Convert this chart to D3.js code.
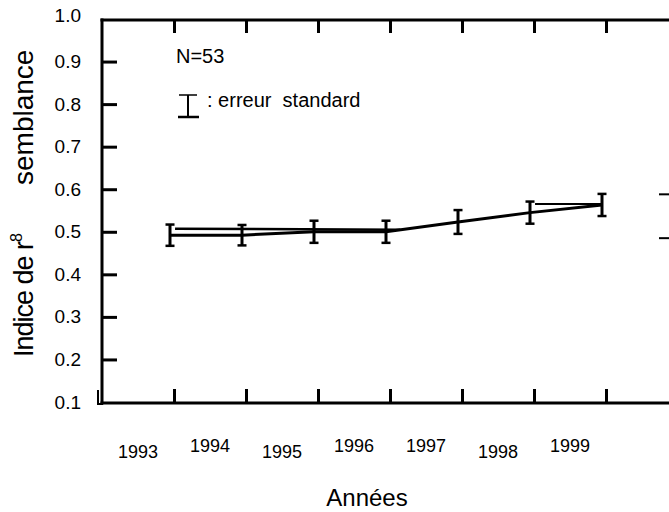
<!DOCTYPE html>
<html>
<head>
<meta charset="utf-8">
<script src="https://cdn.jsdelivr.net/npm/d3@7/dist/d3.min.js"></script>
<style>
  html, body { margin: 0; padding: 0; background: #fff; }
  svg { display: block; }
  text { font-family: "Liberation Sans", Arial, sans-serif; fill: #000; }
</style>
</head>
<body>
<svg id="chart" width="669" height="512"></svg>
<script>
// ---- data ----
const years = [1993, 1994, 1995, 1996, 1997, 1998, 1999];
const meanValues = [0.492, 0.492, 0.500, 0.500, 0.523, 0.545, 0.563];
const seValues = [0.025, 0.024, 0.026, 0.026, 0.028, 0.026, 0.026];
// second (upper) trace segments
const upperYearsA = [1993.07, 1996.2];
const upperValuesA = [0.507, 0.505];
const upperYearsB = [1998.07, 1999];
const upperValuesB = [0.565, 0.565];
const yTickValues = [0.1, 0.2, 0.3, 0.4, 0.5, 0.6, 0.7, 0.8, 0.9, 1.0];
const yTickLabels = ["0.1", "0.2", "0.3", "0.4", "0.5", "0.6", "0.7", "0.8", "0.9", "1.0"];
const xTickYears = [1993, 1994, 1995, 1996, 1997, 1998, 1999, 2000];
const xLabelYears = [1993, 1994, 1995, 1996, 1997, 1998, 1999];
const xLabelRaised = [false, true, false, true, true, false, true];
const stubValues = [0.588, 0.485];

const svg = d3.select("#chart");
const x = d3.scaleLinear().domain([1992, 2000]).range([102, 678]);
const y = d3.scaleLinear().domain([0.1, 1.0]).range([402, 19]);
const barShift = -4;

// frame
svg.append("line").attr("x1", 102).attr("x2", 102).attr("y1", 18.5).attr("y2", 404.5)
  .attr("stroke", "#000").attr("stroke-width", 3);
svg.append("line").attr("x1", 100.5).attr("x2", 669).attr("y1", 20).attr("y2", 20)
  .attr("stroke", "#000").attr("stroke-width", 3);
svg.append("line").attr("x1", 100.5).attr("x2", 669).attr("y1", 403).attr("y2", 403)
  .attr("stroke", "#000").attr("stroke-width", 3);
// small corner mark
svg.append("path").attr("d", "M98,390 L98,404 L103,404").attr("fill", "none")
  .attr("stroke", "#000").attr("stroke-width", 2);

// y axis ticks (inward) and labels
const yAxisG = svg.append("g").attr("transform", "translate(102,0)")
  .call(d3.axisRight(y).tickValues(yTickValues.filter(v => v < 1 && v > 0.1)).tickSize(15).tickFormat(""));
yAxisG.select(".domain").remove();
yAxisG.selectAll(".tick line").attr("stroke", "#000").attr("stroke-width", 3);

svg.append("g").selectAll("text").data(yTickValues).join("text")
  .attr("x", 81).attr("y", (d) => y(d) - (d === 1.0 ? 4 : 0))
  .attr("text-anchor", "end").attr("dominant-baseline", "central")
  .attr("font-size", 19)
  .text((d, i) => yTickLabels[i]);

// x ticks bottom (upward) and top (downward)
const xBottom = svg.append("g").attr("transform", "translate(0,403)")
  .call(d3.axisTop(x).tickValues(xTickYears).tickSize(14).tickFormat(""));
xBottom.select(".domain").remove();
xBottom.selectAll(".tick line").attr("stroke", "#000").attr("stroke-width", 3);
const xTop = svg.append("g").attr("transform", "translate(0,20)")
  .call(d3.axisBottom(x).tickValues(xTickYears).tickSize(13).tickFormat(""));
xTop.select(".domain").remove();
xTop.selectAll(".tick line").attr("stroke", "#000").attr("stroke-width", 3);

// year labels (centred on half-year positions, staggered)
svg.append("g").selectAll("text").data(xLabelYears).join("text")
  .attr("x", (d) => x(d - 0.5))
  .attr("y", (d, i) => xLabelRaised[i] ? 446 : 452)
  .attr("text-anchor", "middle").attr("dominant-baseline", "central")
  .attr("font-size", 18)
  .text((d) => d);

// axis titles
svg.append("text").attr("x", 367).attr("y", 497)
  .attr("text-anchor", "middle").attr("dominant-baseline", "central")
  .attr("font-size", 24).text("Années");

const yt = svg.append("text").attr("transform", "translate(33,357) rotate(-90)")
  .attr("font-size", 27);
yt.append("tspan").attr("letter-spacing", -1).text("Indice de r");
yt.append("tspan").attr("font-size", 16).attr("dy", -11).text("8");
svg.append("text").attr("transform", "translate(33,185) rotate(-90)")
  .attr("font-size", 28).text("semblance");

// lines
const line = d3.line().x((d) => x(d[0]) + barShift).y((d) => y(d[1]));
svg.append("path").datum(years.map((yr, i) => [yr, meanValues[i]]))
  .attr("d", line).attr("fill", "none").attr("stroke", "#000").attr("stroke-width", 3);
svg.append("path").datum(upperYearsA.map((yr, i) => [yr, upperValuesA[i]]))
  .attr("d", line).attr("fill", "none").attr("stroke", "#000").attr("stroke-width", 2.5);
svg.append("path").datum(upperYearsB.map((yr, i) => [yr, upperValuesB[i]]))
  .attr("d", line).attr("fill", "none").attr("stroke", "#000").attr("stroke-width", 2);

// error bars
const eb = svg.append("g").selectAll("g").data(years).join("g");
eb.append("line")
  .attr("x1", (d) => x(d) + barShift).attr("x2", (d) => x(d) + barShift)
  .attr("y1", (d, i) => y(meanValues[i] + seValues[i]))
  .attr("y2", (d, i) => y(meanValues[i] - seValues[i]))
  .attr("stroke", "#000").attr("stroke-width", 3);
eb.append("line")
  .attr("x1", (d) => x(d) + barShift - 4.5).attr("x2", (d) => x(d) + barShift + 4.5)
  .attr("y1", (d, i) => y(meanValues[i] + seValues[i]))
  .attr("y2", (d, i) => y(meanValues[i] + seValues[i]))
  .attr("stroke", "#000").attr("stroke-width", 2.5);
eb.append("line")
  .attr("x1", (d) => x(d) + barShift - 4.5).attr("x2", (d) => x(d) + barShift + 4.5)
  .attr("y1", (d, i) => y(meanValues[i] - seValues[i]))
  .attr("y2", (d, i) => y(meanValues[i] - seValues[i]))
  .attr("stroke", "#000").attr("stroke-width", 2.5);

// stubs at the right edge
svg.append("g").selectAll("line").data(stubValues).join("line")
  .attr("x1", 659).attr("x2", 669)
  .attr("y1", (d) => y(d)).attr("y2", (d) => y(d))
  .attr("stroke", "#000").attr("stroke-width", 2);

// annotations
svg.append("text").attr("x", 176).attr("y", 63).attr("font-size", 20).text("N=53");
svg.append("line").attr("x1", 188).attr("x2", 188).attr("y1", 95).attr("y2", 117)
  .attr("stroke", "#000").attr("stroke-width", 2);
svg.append("line").attr("x1", 179).attr("x2", 197).attr("y1", 95).attr("y2", 95)
  .attr("stroke", "#000").attr("stroke-width", 1.5);
svg.append("line").attr("x1", 178).attr("x2", 199).attr("y1", 117).attr("y2", 117)
  .attr("stroke", "#000").attr("stroke-width", 2.5);
svg.append("text").attr("x", 207).attr("y", 107).attr("font-size", 20)
  .attr("xml:space", "preserve").text(": erreur  standard");
</script>
</body>
</html>
